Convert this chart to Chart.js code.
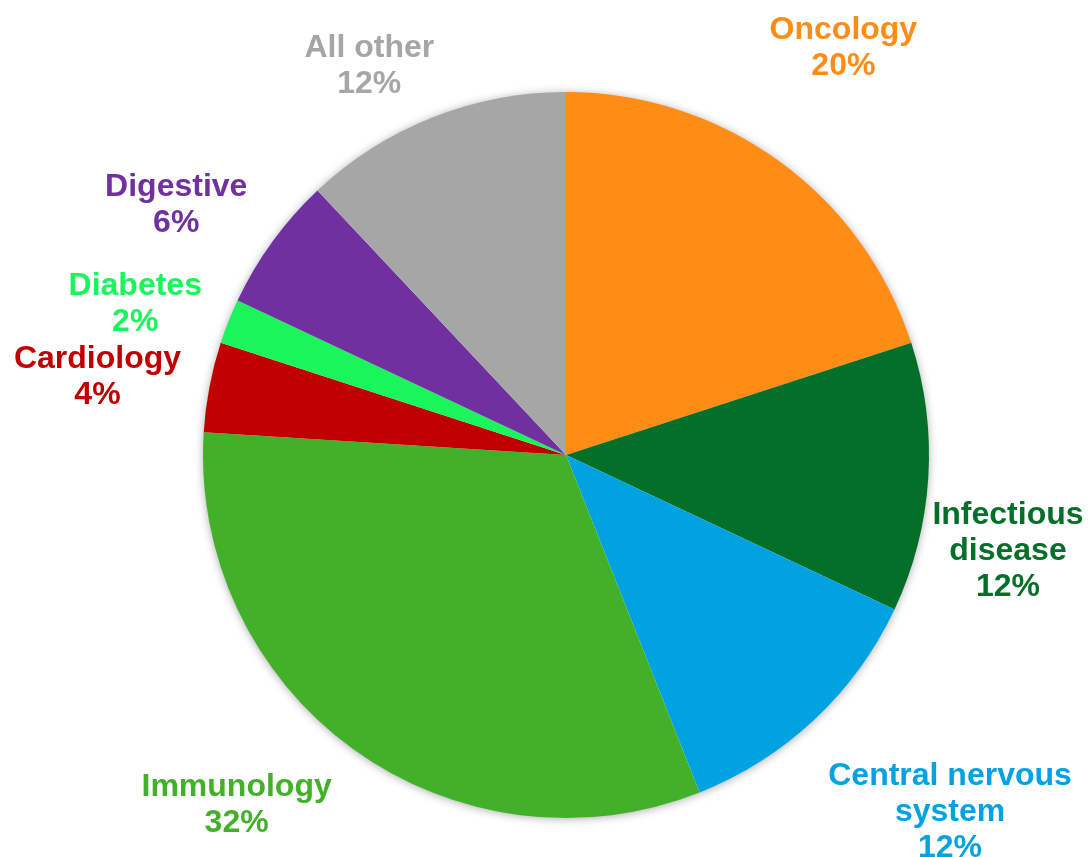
<!DOCTYPE html>
<html>
<head>
<meta charset="utf-8">
<script src="https://cdn.jsdelivr.net/npm/chart.js@4.4.1/dist/chart.umd.min.js"></script>
<style>
html,body{margin:0;padding:0;background:#fff;}
#wrap{width:1089px;height:857px;position:relative;}
</style>
</head>
<body>
<div id="wrap"><canvas id="c" width="1089" height="857"></canvas></div>
<script>
const categories = ["Oncology", "Infectious disease", "Central nervous system", "Immunology", "Cardiology", "Diabetes", "Digestive", "All other"];
const shares = [20, 12, 12, 32, 4, 2, 6, 12];
const labelLines = [["Oncology"], ["Infectious", "disease"], ["Central nervous", "system"], ["Immunology"], ["Cardiology"], ["Diabetes"], ["Digestive"], ["All other"]];
const colors = ["#FF8C14", "#036F28", "#00A2E1", "#43B02A", "#C00000", "#19F55A", "#7030A0", "#A6A6A6"];

// label placement nudges (style only)
const labelNudge = [[0,-25],[-29,67],[61,13],[-52,-32],[-5,11],[8,23],[-8,28],[-23,50]];

const shadowPlugin = {
  id: 'pieShadow',
  beforeDatasetsDraw(chart) {
    const arc = chart.getDatasetMeta(0).data[0];
    if (!arc) return;
    const ctx = chart.ctx;
    ctx.save();
    ctx.shadowColor = 'rgba(0,0,0,0.35)';
    ctx.shadowBlur = 10;
    ctx.shadowOffsetY = 1;
    ctx.fillStyle = '#ffffff';
    ctx.beginPath();
    ctx.arc(arc.x, arc.y, arc.outerRadius - 0.5, 0, Math.PI * 2);
    ctx.fill();
    ctx.restore();
  }
};

const labelPlugin = {
  id: 'outLabels',
  afterDatasetsDraw(chart) {
    const ctx = chart.ctx;
    const meta = chart.getDatasetMeta(0);
    const total = shares.reduce((a, b) => a + b, 0);
    ctx.save();
    ctx.font = 'bold 32px "Liberation Sans", Arial, sans-serif';
    ctx.textAlign = 'center';
    ctx.textBaseline = 'middle';
    const lh = 36;
    meta.data.forEach((arc, i) => {
      const mid = (arc.startAngle + arc.endAngle) / 2;
      const r = arc.outerRadius * 1.3;
      const cx = arc.x + Math.cos(mid) * r + labelNudge[i][0];
      const cy = arc.y + Math.sin(mid) * r + labelNudge[i][1];
      const lines = labelLines[i].concat([Math.round(shares[i] / total * 100) + '%']);
      const y0 = cy - (lines.length - 1) * lh / 2;
      ctx.fillStyle = colors[i];
      lines.forEach((t, k) => ctx.fillText(t, cx, y0 + k * lh));
    });
    ctx.restore();
  }
};

new Chart(document.getElementById('c'), {
  type: 'pie',
  data: {
    labels: categories,
    datasets: [{
      data: shares,
      backgroundColor: colors,
      borderWidth: 0
    }]
  },
  options: {
    responsive: false,
    animation: false,
    layout: { padding: { left: 203, right: 160, top: 92, bottom: 39 } },
    plugins: { legend: { display: false }, tooltip: { enabled: false } }
  },
  plugins: [shadowPlugin, labelPlugin]
});
</script>
</body>
</html>
